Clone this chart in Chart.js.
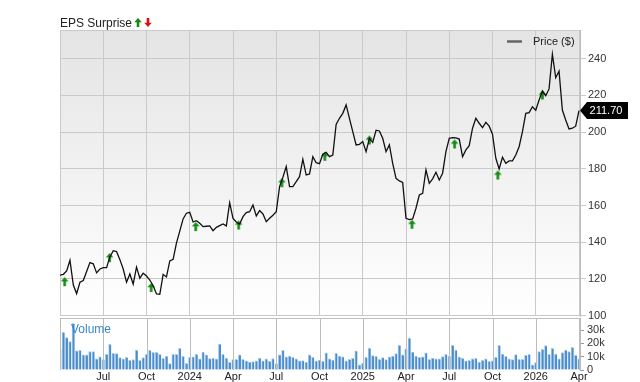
<!DOCTYPE html>
<html>
<head>
<meta charset="utf-8">
<script src="https://cdn.jsdelivr.net/npm/chart.js@4/dist/chart.umd.min.js"></script>
<style>
  html, body { margin: 0; padding: 0; background: #fff; }
  #wrap { position: relative; width: 640px; height: 382px; overflow: hidden; }
  #priceChart { position: absolute; left: 0; top: 0; }
  #volumeChart { position: absolute; left: 0; top: 308px; }
</style>
</head>
<body>
<div id="wrap">
  <canvas id="priceChart" width="640" height="382"></canvas>
  <canvas id="volumeChart" width="640" height="74"></canvas>
</div>
<script>
// --- Data (weekly, Apr 2023 -> Apr 2026) ---
const prices = [
  122.0, 122.5, 124.3, 130.2, 116.7, 112.0, 118.2, 119.1, 124.0, 128.9,
  128.2, 123.3, 125.4, 126.1, 126.1, 132.0, 135.4, 134.9, 130.5, 125.4,
  118.2, 122.7, 117.1, 126.4, 120.4, 123.1, 121.6, 119.4, 116.3, 111.8,
  111.6, 122.5, 121.1, 129.8, 130.7, 139.5, 146.0, 152.7, 155.8, 156.3,
  151.0, 151.7, 150.3, 148.5, 148.7, 148.9, 146.3, 148.1, 149.0, 149.9,
  148.9, 161.5, 153.0, 151.0, 149.9, 153.9, 156.1, 156.6, 160.3, 154.3,
  157.2, 155.4, 151.2, 153.0, 154.7, 156.6, 170.3, 175.4, 181.2, 170.3,
  170.3, 173.0, 175.7, 185.2, 176.6, 177.2, 186.6, 183.3, 182.8, 187.9,
  189.0, 186.6, 187.5, 204.2, 207.5, 210.2, 214.8, 207.5, 200.2, 193.0,
  193.3, 194.8, 189.3, 196.6, 194.4, 201.0, 200.6, 196.6, 189.3, 193.0,
  183.0, 174.8, 173.4, 172.6, 153.0, 152.3, 152.7, 158.5, 165.7, 166.6,
  179.4, 172.1, 174.5, 178.1, 173.9, 177.6, 189.3, 196.6, 197.0, 196.8,
  196.2, 186.6, 190.3, 192.6, 202.1, 207.5, 204.8, 202.4, 205.3, 203.2,
  198.8, 185.7, 179.9, 186.3, 183.0, 184.3, 184.3, 187.5, 192.0, 200.2,
  210.2, 210.6, 213.8, 211.9, 217.5, 222.4, 219.8, 223.5, 242.4, 229.6,
  233.2, 212.0, 206.6, 201.7, 202.1, 203.2, 211.7
];

// weekly volume, thousands
const volumes = [
  15.8, 28.3, 24.3, 21.3, 35.0, 14.3, 14.8, 11.3, 11.3, 13.8,
  13.8, 8.3, 9.8, 7.8, 11.8, 19.3, 12.5, 12.3, 9.3, 8.3,
  9.5, 7.3, 7.8, 15.0, 7.3, 9.3, 11.8, 14.8, 13.3, 13.3,
  11.8, 8.8, 10.5, 4.8, 11.8, 11.8, 16.3, 10.3, 5.0,
  9.5, 9.8, 11.8, 8.3, 13.5, 11.3, 8.5, 9.0, 8.3, 19.5,
  11.8, 9.0, 5.8, 7.8, 8.0, 11.3, 8.0, 6.8, 6.0, 6.3,
  6.8, 9.0, 6.8, 8.3, 6.5, 8.5, 4.8, 11.3, 14.8, 9.8,
  10.5, 9.5, 8.3, 6.8, 7.0, 6.0, 11.3, 9.5, 6.8, 7.5,
  6.5, 12.8, 8.3, 7.5, 12.5, 10.5, 9.8, 6.8, 8.0, 8.8,
  14.3, 3.8, 5.0, 9.5, 16.5, 10.8, 10.3, 8.0, 9.3, 7.8,
  9.8, 10.5, 12.3, 18.5, 11.3, 15.8, 24.0, 13.5, 10.5, 9.5,
  9.8, 12.8, 8.0, 9.0, 8.3, 8.3, 10.0, 11.8, 10.5,
  18.5, 15.0, 9.8, 8.8, 6.8, 7.3, 8.3, 8.8, 6.0, 7.3,
  8.3, 6.5, 6.8, 9.5, 18.5, 12.0, 10.3, 8.3, 7.8, 11.5,
  8.0, 8.0, 11.0, 11.8, 3.8, 5.5, 13.8, 15.5, 18.3, 11.8,
  16.3, 12.0, 8.3, 13.0, 15.0, 13.8, 17.0, 11.0, 8.3
];

// earnings beats (week, arrow level)
const epsWeeks = [1.4, 14.9, 27.4, 40.8, 53.7, 66.7, 79.6, 93.0, 105.8, 118.6, 131.6, 145.0];
const epsLevels = [118.5, 131.6, 115.3, 148.5, 149.4, 172.4, 186.8, 195.7, 149.8, 193.5, 176.6, 220.2];

const tickWeeks = [0, 13, 26, 39, 52, 65, 78, 91, 104, 117, 130, 143, 156];
const tickLabels = ['', 'Jul', 'Oct', '2024', 'Apr', 'Jul', 'Oct', '2025', 'Apr', 'Jul', 'Oct', '2026', 'Apr'];
const priceTicks = [100, 120, 140, 160, 180, 200, 220, 240];
const volumeTicks = [0, 10000, 20000, 30000];

const weeks = prices.map((_, i) => i);
const lastPrice = prices[prices.length - 1];

Chart.defaults.font.family = '"Liberation Sans", Arial, sans-serif';
Chart.defaults.color = '#333';

const gridColor = '#cacaca';

function drawArrow(ctx, cx, cy, dir, color) {
    // dir 1 = up, -1 = down
    ctx.beginPath();
    ctx.moveTo(cx, cy - 4.5 * dir);
    ctx.lineTo(cx + 3.8, cy - 0.3 * dir);
    ctx.lineTo(cx + 1.3, cy - 0.3 * dir);
    ctx.lineTo(cx + 1.3, cy + 4.5 * dir);
    ctx.lineTo(cx - 1.3, cy + 4.5 * dir);
    ctx.lineTo(cx - 1.3, cy - 0.3 * dir);
    ctx.lineTo(cx - 3.8, cy - 0.3 * dir);
    ctx.closePath();
    ctx.fillStyle = color;
    ctx.fill();
}

// arrow image for the EPS markers
const arrowImg = document.createElement('canvas');
arrowImg.width = 9;
arrowImg.height = 11;
drawArrow(arrowImg.getContext('2d'), 4.5, 5.5, 1, '#138a13');

const priceDecor = {
    id: 'priceDecor',
    beforeDraw(chart) {
        const { ctx, chartArea: a } = chart;
        const g = ctx.createLinearGradient(0, a.top, 0, a.bottom);
        g.addColorStop(0, '#e4e4e4');
        g.addColorStop(1, '#ffffff');
        ctx.save();
        ctx.fillStyle = g;
        ctx.fillRect(a.left, a.top, a.right - a.left, a.bottom - a.top);
        ctx.restore();
    },
    afterDraw(chart) {
        const { ctx, chartArea: a } = chart;
        ctx.save();
        // top border
        ctx.strokeStyle = gridColor;
        ctx.lineWidth = 1;
        ctx.beginPath();
        ctx.moveTo(a.left, a.top + 0.5);
        ctx.lineTo(a.right, a.top + 0.5);
        ctx.stroke();

        // title
        ctx.font = '12px "Liberation Sans", Arial, sans-serif';
        ctx.fillStyle = '#222';
        ctx.textBaseline = 'alphabetic';
        ctx.fillText('EPS Surprise', 60, 27);
        drawArrow(ctx, 138, 22.5, 1, '#138a13');
        drawArrow(ctx, 148, 22.5, -1, '#e01010');

        // legend
        ctx.strokeStyle = '#666';
        ctx.lineWidth = 2.5;
        ctx.beginPath();
        ctx.moveTo(507, 41.5);
        ctx.lineTo(522, 41.5);
        ctx.stroke();
        ctx.font = '11px "Liberation Sans", Arial, sans-serif';
        ctx.fillStyle = '#222';
        ctx.textBaseline = 'middle';
        ctx.fillText('Price ($)', 533, 42);

        // last price tag
        const y = chart.scales.y.getPixelForValue(lastPrice);
        ctx.beginPath();
        ctx.moveTo(580, y);
        ctx.lineTo(587, y - 8.5);
        ctx.lineTo(628, y - 8.5);
        ctx.lineTo(628, y + 8.5);
        ctx.lineTo(587, y + 8.5);
        ctx.closePath();
        ctx.fillStyle = '#000';
        ctx.fill();
        ctx.fillStyle = '#fff';
        ctx.textAlign = 'center';
        ctx.fillText(lastPrice.toFixed(2), 606, y + 0.5);
        ctx.restore();
    }
};

const volumeDecor = {
    id: 'volumeDecor',
    afterDraw(chart) {
        // quarter lines and top border of the volume panel, drawn last
        const { ctx, chartArea: a, scales } = chart;
        ctx.save();
        ctx.strokeStyle = '#bdbdbd';
        ctx.lineWidth = 1;
        ctx.beginPath();
        tickWeeks.forEach((w) => {
            const x = Math.round(scales.x.getPixelForValue(w)) + 0.5;
            ctx.moveTo(x, a.top);
            ctx.lineTo(x, a.bottom);
        });
        ctx.moveTo(a.left, a.top + 0.5);
        ctx.lineTo(a.right, a.top + 0.5);
        ctx.stroke();

        ctx.font = '12px "Liberation Sans", Arial, sans-serif';
        ctx.fillStyle = '#3a86c8';
        ctx.textBaseline = 'middle';
        ctx.fillText('Volume', 71, a.top + 12);
        ctx.restore();
    }
};

new Chart(document.getElementById('priceChart'), {
    type: 'line',
    data: {
        datasets: [{
            label: 'Price ($)',
            data: weeks.map((w, i) => ({ x: w, y: prices[i] })),
            borderColor: '#111',
            borderWidth: 1.3,
            pointRadius: 0,
            tension: 0
        }, {
            type: 'scatter',
            label: 'EPS',
            data: epsWeeks.map((w, i) => ({ x: w, y: epsLevels[i] })),
            pointStyle: arrowImg,
            pointRadius: 5
        }]
    },
    options: {
        responsive: false,
        animation: false,
        events: [],
        layout: { padding: { left: 60, top: 30, right: 0, bottom: 66 } },
        plugins: { legend: { display: false }, tooltip: { enabled: false } },
        scales: {
            x: {
                type: 'linear',
                min: 0,
                max: 156.3,
                afterBuildTicks: (s) => { s.ticks = tickWeeks.map(v => ({ value: v })); },
                afterFit: (s) => { s.height = 0; },
                ticks: { display: false },
                grid: { color: gridColor, drawTicks: false },
                border: { display: false }
            },
            y: {
                position: 'right',
                min: 99.8,
                max: 255.6,
                afterBuildTicks: (s) => { s.ticks = priceTicks.map(v => ({ value: v })); },
                afterFit: (s) => { s.width = 60; },
                ticks: { color: '#333', font: { size: 11 }, padding: 2, autoSkip: false },
                grid: { color: gridColor, tickLength: 6 },
                border: { color: '#bbb' }
            }
        }
    },
    plugins: [priceDecor]
});

new Chart(document.getElementById('volumeChart'), {
    type: 'bar',
    data: {
        datasets: [{
            label: 'Volume',
            data: weeks.map((w, i) => ({ x: w, y: volumes[i] * 1000 })),
            backgroundColor: '#4a8ccc',
            borderColor: '#a9cbeb',
            borderWidth: { left: 1, top: 1, right: 0, bottom: 0 },
            borderSkipped: false,
            barThickness: 2.6
        }]
    },
    options: {
        responsive: false,
        animation: false,
        events: [],
        layout: { padding: { left: 60, top: 10, right: 0, bottom: 0 } },
        plugins: { legend: { display: false }, tooltip: { enabled: false } },
        scales: {
            x: {
                type: 'linear',
                offset: false,
                min: 0,
                max: 156.3,
                afterBuildTicks: (s) => { s.ticks = tickWeeks.map(v => ({ value: v })); },
                afterFit: (s) => { s.height = 12; },
                ticks: {
                    callback: (v) => tickLabels[tickWeeks.indexOf(v)],
                    autoSkip: false,
                    maxRotation: 0,
                    padding: 0,
                    color: '#222',
                    font: { size: 11 }
                },
                grid: { color: 'rgba(0,0,0,0)', drawTicks: false, offset: false },
                border: { display: false }
            },
            y: {
                position: 'right',
                min: 0,
                max: 39000,
                afterBuildTicks: (s) => { s.ticks = volumeTicks.map(v => ({ value: v })); },
                afterFit: (s) => { s.width = 60; },
                ticks: {
                    callback: (v) => v === 0 ? '0' : (v / 1000) + 'k',
                    autoSkip: false,
                    color: '#333',
                    font: { size: 11 },
                    padding: 3
                },
                grid: { drawOnChartArea: false, tickLength: 4, color: '#999' },
                border: { color: '#bbb' }
            }
        }
    },
    plugins: [volumeDecor]
});
</script>
</body>
</html>
